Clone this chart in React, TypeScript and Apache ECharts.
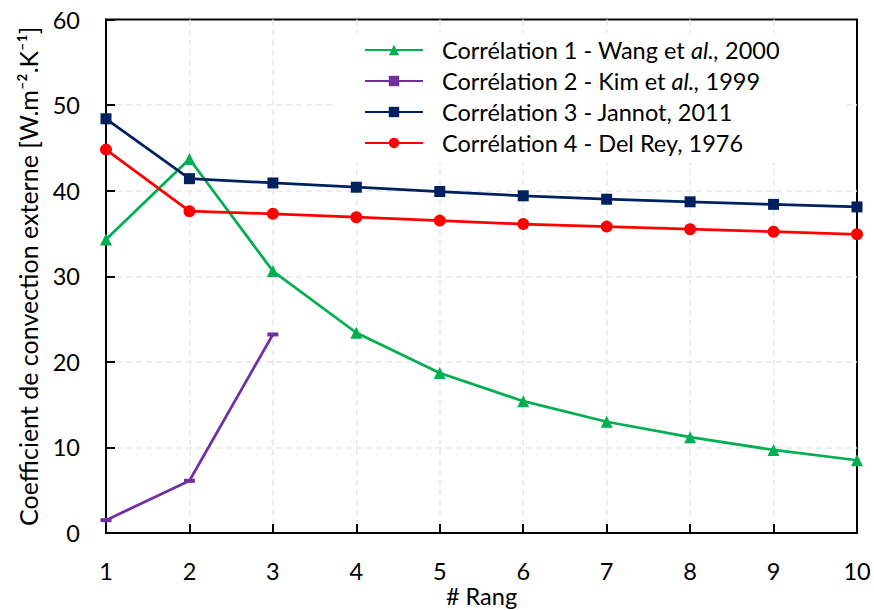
import React, { useEffect, useRef } from "react";
import * as echarts from "echarts";

const rangs = [1, 2, 3, 4, 5, 6, 7, 8, 9, 10];
const wang = [34.3, 43.7, 30.6, 23.4, 18.7, 15.4, 13.0, 11.2, 9.7, 8.5];
const kim = [1.5, 6.1, 23.2];
const jannot = [48.4, 41.4, 40.9, 40.4, 39.9, 39.4, 39.0, 38.7, 38.4, 38.1];
const delRey = [44.8, 37.6, 37.3, 36.9, 36.5, 36.1, 35.8, 35.5, 35.2, 34.9];
const seriesNames = [
  "Corrélation 1 - Wang et al., 2000",
  "Corrélation 2 - Kim et al., 1999",
  "Corrélation 3 - Jannot, 2011",
  "Corrélation 4 - Del Rey, 1976",
];
const richNames: Record<string, string> = {
  [seriesNames[0]]: "{n|Corrélation 1 - Wang et }{i|al.,}{n| 2000}",
  [seriesNames[1]]: "{n|Corrélation 2 - Kim et }{i|al.,}{n| 1999}",
  [seriesNames[2]]: "{n|Corrélation 3 - Jannot, 2011}",
  [seriesNames[3]]: "{n|Corrélation 4 - Del Rey, 1976}",
};

const FONT = "Lato";
const FS = 23.5;

function pairs(vals: number[]) {
  return vals.map((v, i) => [rangs[i], v]);
}

export default function App() {
  const ref = useRef<HTMLDivElement>(null);
  useEffect(() => {
    if (!ref.current) return;
    const chart = echarts.init(ref.current, undefined, { renderer: "svg" });
    const textBase = { fontFamily: FONT, fontSize: FS, color: "#000" };
    const split = {
      show: true,
      showMinLine: false,
      showMaxLine: false,
      lineStyle: { color: "#E6E6E6", width: 1.5, type: [6, 4] },
    };
    chart.setOption({
      animation: false,
      backgroundColor: "#fff",
      grid: {
        left: 106,
        right: 17,
        top: 19.5,
        bottom: 77,
        outerBoundsMode: "none",
        containLabel: false,
        show: true,
        borderColor: "#000",
        borderWidth: 2,
        backgroundColor: "transparent",
      },
      legend: {
        orient: "vertical",
        left: 335,
        top: 33,
        padding: [5, 67, 8, 29],
        backgroundColor: "#fff",
        itemWidth: 58,
        itemHeight: 13,
        itemGap: 7,
        data: seriesNames,
        formatter: (name: string) => richNames[name] || name,
        textStyle: {
          ...textBase,
          padding: [0, 0, 0, 14],
          lineHeight: FS,
          rich: {
            n: { fontFamily: FONT, fontSize: FS, color: "#000", lineHeight: FS },
            i: { fontFamily: FONT, fontSize: FS, color: "#000", fontStyle: "italic", lineHeight: FS },
          },
        },
      },
      xAxis: {
        type: "value",
        min: 1,
        max: 10,
        interval: 1,
        name: "# Rang",
        nameLocation: "middle",
        nameGap: 51,
        nameMoveOverlap: false,
        nameTextStyle: { ...textBase, lineHeight: 23 },
        axisLine: { show: true, lineStyle: { color: "#000", width: 2 } },
        axisTick: { show: true, inside: true, length: 9, lineStyle: { color: "#000", width: 2 } },
        axisLabel: { ...textBase, margin: 26 },
        splitLine: split,
      },
      yAxis: {
        type: "value",
        min: 0,
        max: 60,
        interval: 10,
        name: "Coefficient de convection externe [W.m⁻².K⁻¹]",
        nameLocation: "middle",
        nameGap: 66,
        nameMoveOverlap: false,
        nameTextStyle: { ...textBase, fontSize: 25 },
        axisLine: { show: true, lineStyle: { color: "#000", width: 2 } },
        axisTick: { show: true, inside: true, length: 9, lineStyle: { color: "#000", width: 2 } },
        axisLabel: { ...textBase, margin: 26 },
        splitLine: split,
      },
      series: [
        {
          name: seriesNames[0],
          type: "line",
          data: pairs(wang),
          symbol: "triangle",
          symbolSize: 12,
          itemStyle: { color: "#00B050" },
          lineStyle: { color: "#00B050", width: 2.75 },
        },
        {
          name: seriesNames[1],
          type: "line",
          data: pairs(kim),
          symbol: "rect",
          symbolSize: [11, 4],
          itemStyle: { color: "#7030A0" },
          lineStyle: { color: "#7030A0", width: 2.75 },
        },
        {
          name: seriesNames[2],
          type: "line",
          data: pairs(jannot),
          symbol: "rect",
          symbolSize: 11,
          itemStyle: { color: "#002060" },
          lineStyle: { color: "#002060", width: 2.75 },
        },
        {
          name: seriesNames[3],
          type: "line",
          data: pairs(delRey),
          symbol: "circle",
          symbolSize: 12,
          itemStyle: { color: "#FF0000" },
          lineStyle: { color: "#FF0000", width: 2.75 },
        },
      ],
    });
    return () => chart.dispose();
  }, []);
  return (
    <div
      ref={ref}
      style={{ width: 874, height: 610, position: "absolute", left: 0, top: 0 }}
    />
  );
}
